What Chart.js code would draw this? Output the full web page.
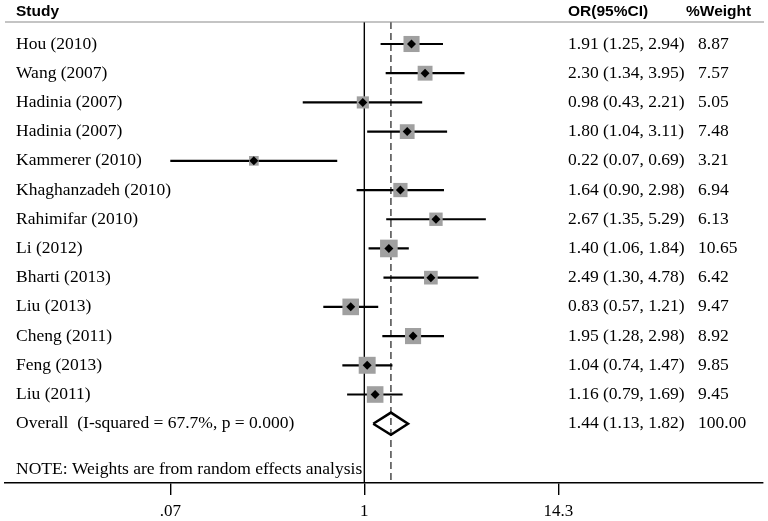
<!DOCTYPE html>
<html>
<head>
<meta charset="utf-8">
<script src="https://cdn.jsdelivr.net/npm/chart.js@4.4.1/dist/chart.umd.min.js"></script>
<style>
  html, body { margin: 0; padding: 0; background: #fff; }
  #wrap { width: 768px; height: 521px; }
</style>
</head>
<body>
<div id="wrap"><canvas id="c" width="768" height="521"></canvas></div>
<script>
// ---- data ----
const studies = ['Hou (2010)','Wang (2007)','Hadinia (2007)','Hadinia (2007)','Kammerer (2010)','Khaghanzadeh (2010)','Rahimifar (2010)','Li (2012)','Bharti (2013)','Liu (2013)','Cheng (2011)','Feng (2013)','Liu (2011)'];
const orValues = [1.91, 2.30, 0.98, 1.80, 0.22, 1.64, 2.67, 1.40, 2.49, 0.83, 1.95, 1.04, 1.16];
const ciLow    = [1.25, 1.34, 0.43, 1.04, 0.07, 0.90, 1.35, 1.06, 1.30, 0.57, 1.28, 0.74, 0.79];
const ciHigh   = [2.94, 3.95, 2.21, 3.11, 0.69, 2.98, 5.29, 1.84, 4.78, 1.21, 2.98, 1.47, 1.69];
const weights  = [8.87, 7.57, 5.05, 7.48, 3.21, 6.94, 6.13, 10.65, 6.42, 9.47, 8.92, 9.85, 9.45];
const overallLabel = 'Overall  (I-squared = 67.7%, p = 0.000)';
const overallOR = 1.44, overallLow = 1.13, overallHigh = 1.82, overallWeight = 100.00;
const noteText = 'NOTE: Weights are from random effects analysis';
const tickValues = [0.07, 1, 14.3];
const tickLabels = ['.07', '1', '14.3'];
const headers = ['Study', 'OR(95%CI)', '%Weight'];

// ---- layout helpers ----
const overallRow = studies.length;
const noteRow = studies.length + 1.55;
const yMin = -0.753, yMax = 15.03;
const xMin = 0.007265, xMax = 236.1;
const fmt = v => v.toFixed(2);

const datasets = [];
// reference lines
datasets.push({
  type: 'line', order: 20,
  data: [{x: 1, y: yMin}, {x: 1, y: yMax}],
  borderColor: '#000', borderWidth: 1.4, pointRadius: 0
});
datasets.push({
  type: 'line', order: 19,
  data: [{x: overallOR, y: yMin}, {x: overallOR, y: yMax}],
  borderColor: '#4a4a4a', borderWidth: 1.5, borderDash: [7, 4], pointRadius: 0
});
// CI lines
studies.forEach((s, i) => {
  datasets.push({
    type: 'line', order: 10,
    data: [{x: ciLow[i], y: i}, {x: ciHigh[i], y: i}],
    borderColor: '#000', borderWidth: 2.2, pointRadius: 0
  });
});
// weight squares
datasets.push({
  type: 'scatter', order: 5,
  data: orValues.map((v, i) => ({x: v, y: i})),
  pointStyle: 'rect',
  pointRadius: ctx => 5.4 * Math.sqrt(weights[ctx.dataIndex]) / Math.SQRT2,
  pointBackgroundColor: '#a0a0a0', pointBorderWidth: 0, pointBorderColor: '#a0a0a0'
});
// point estimates
datasets.push({
  type: 'scatter', order: 3,
  data: orValues.map((v, i) => ({x: v, y: i})),
  pointStyle: 'rectRot', pointRadius: 4.5,
  pointBackgroundColor: '#000', pointBorderWidth: 0, pointBorderColor: '#000'
});
// overall diamond
const dh = 0.38;
datasets.push({
  type: 'line', order: 2,
  data: [
    {x: overallLow, y: overallRow}, {x: overallOR, y: overallRow - dh},
    {x: overallHigh, y: overallRow}, {x: overallOR, y: overallRow + dh},
    {x: overallLow, y: overallRow}
  ],
  borderColor: '#000', borderWidth: 2.5, pointRadius: 0, tension: 0,
  borderJoinStyle: 'miter', fill: false
});

const serif = '"Liberation Serif", "Times New Roman", serif';
const sans = '"Liberation Sans", Arial, sans-serif';

const textPlugin = {
  id: 'forestText',
  afterDraw(chart) {
    const ctx = chart.ctx;
    const y = chart.scales.y;
    ctx.save();
    // header line
    ctx.strokeStyle = '#8a8a8a';
    ctx.lineWidth = 1.2;
    ctx.beginPath();
    ctx.moveTo(5, 22); ctx.lineTo(764, 22);
    ctx.stroke();
    // headers
    ctx.fillStyle = '#000';
    ctx.textBaseline = 'middle';
    ctx.textAlign = 'left';
    ctx.font = 'bold 15.5px ' + sans;
    ctx.fillText(headers[0], 16, 12);
    ctx.fillText(headers[1], 568, 12);
    ctx.fillText(headers[2], 686, 12);
    // rows
    ctx.font = '17.5px ' + serif;
    studies.forEach((s, i) => {
      const py = y.getPixelForValue(i);
      ctx.fillText(s, 16, py);
      ctx.fillText(fmt(orValues[i]) + ' (' + fmt(ciLow[i]) + ', ' + fmt(ciHigh[i]) + ')', 568, py);
      ctx.fillText(fmt(weights[i]), 698, py);
    });
    const po = y.getPixelForValue(overallRow);
    ctx.fillText(overallLabel, 16, po);
    ctx.fillText(fmt(overallOR) + ' (' + fmt(overallLow) + ', ' + fmt(overallHigh) + ')', 568, po);
    ctx.fillText(fmt(overallWeight), 698, po);
    ctx.fillText(noteText, 16, y.getPixelForValue(noteRow));
    ctx.restore();
  }
};

new Chart(document.getElementById('c'), {
  type: 'scatter',
  data: { datasets },
  options: {
    responsive: false,
    animation: false,
    devicePixelRatio: 1,
    layout: { autoPadding: false, padding: { left: 5, right: 5, top: 22, bottom: 0 } },
    plugins: { legend: { display: false }, tooltip: { enabled: false } },
    scales: {
      x: {
        type: 'logarithmic',
        position: 'bottom',
        min: xMin, max: xMax,
        afterBuildTicks: scale => { scale.ticks = tickValues.map(v => ({ value: v })); },
        afterFit: scale => { scale.height = 38; },
        ticks: {
          autoSkip: false, maxRotation: 0,
          color: '#000', padding: 6,
          font: { family: serif, size: 17 },
          callback: (value, index) => tickLabels[index]
        },
        grid: { display: true, drawOnChartArea: false, drawTicks: true, tickLength: 12, color: '#000', lineWidth: 1.4 },
        border: { display: true, color: '#000', width: 1.5 }
      },
      y: {
        type: 'linear', reverse: true, min: yMin, max: yMax, display: false
      }
    }
  },
  plugins: [textPlugin]
});
</script>
</body>
</html>
